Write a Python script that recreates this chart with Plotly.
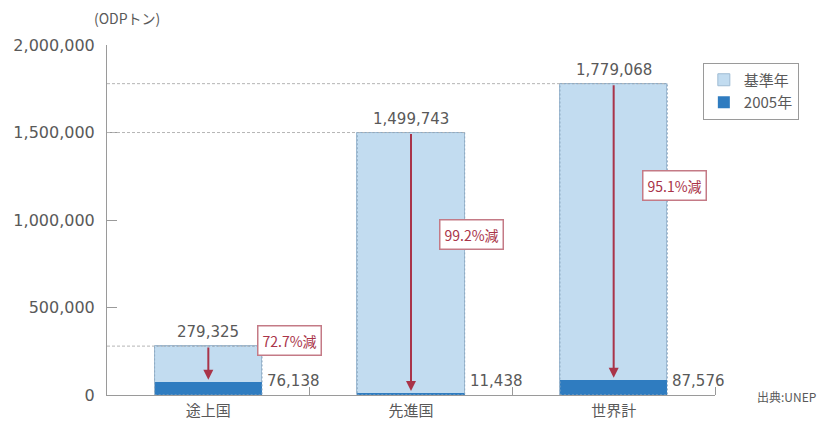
import plotly.graph_objects as go

# ODP-tonne consumption: base year vs 2005
categories = ["途上国", "先進国", "世界計"]
base_year = [279325, 1499743, 1779068]
year_2005 = [76138, 11438, 87576]
series_names = ["基準年", "2005年"]
y_ticks = [0, 500000, 1000000, 1500000, 2000000]

LIGHT = "#c2dcf0"
DARK = "#2f7cc0"
RED = "#a93449"
GREY = "#9a9a9a"
TEXT = "#595959"
FONT = "Noto Sans CJK JP"
NUM_FONT = "DejaVu Sans"
BAR_W = 0.53

x = list(range(len(categories)))

fig = go.Figure()
fig.add_trace(go.Bar(x=x, y=base_year, name=series_names[0], width=BAR_W,
                     marker=dict(color=LIGHT, line=dict(color="#9fbbd3", width=1))))
fig.add_trace(go.Bar(x=x, y=year_2005, name=series_names[1], width=BAR_W,
                     marker=dict(color=DARK, line=dict(width=0))))

shapes = []
annotations = []
label_pos = [(0.40, 314000), (1.30, 920000), (2.30, 1200000)]
for i, (b, v) in enumerate(zip(base_year, year_2005)):
    left, right = i - BAR_W / 2, i + BAR_W / 2
    # dashed reference line from the axis to the top of the base-year bar
    shapes.append(dict(type="line", xref="x", yref="y", x0=-0.5, x1=right, y0=b, y1=b,
                       line=dict(color="#b5b5b5", width=1, dash="3px,2px"), layer="above"))
    # dashed outline of the base-year bar
    shapes.append(dict(type="rect", xref="x", yref="y", x0=left, x1=right, y0=0, y1=b,
                       line=dict(color="#8eaac2", width=1, dash="2px,2px"), layer="above"))
    # base-year value above the bar
    annotations.append(dict(x=i, y=b, xref="x", yref="y", text=f"{b:,}", showarrow=False,
                            yanchor="bottom", yshift=3,
                            font=dict(family=NUM_FONT, size=15, color=TEXT)))
    # 2005 value to the right of the bar
    annotations.append(dict(x=right, y=0, xref="x", yref="y", text=f"{v:,}", showarrow=False,
                            xanchor="left", yanchor="bottom", xshift=3, yshift=3,
                            font=dict(family=NUM_FONT, size=15, color=TEXT)))
    # reduction arrow
    annotations.append(dict(x=i, y=v, ax=i, ay=b, xref="x", yref="y", axref="x", ayref="y",
                            text="", showarrow=True, arrowhead=2, arrowsize=1,
                            arrowwidth=2, arrowcolor=RED, standoff=2))
    # reduction percentage box
    pct = (1 - v / b) * 100
    lx, ly = label_pos[i]
    annotations.append(dict(x=lx, y=ly, xref="x", yref="y", text=f"{pct:.1f}%減",
                            showarrow=False, bgcolor="white", bordercolor="#c47a86",
                            borderwidth=1.5, borderpad=4,
                            font=dict(size=14, color=RED)))

annotations.append(dict(x=0.033, y=1.077, xref="paper", yref="paper", text="(ODPトン)",
                        showarrow=False, xanchor="center", yanchor="middle",
                        font=dict(size=14, color=TEXT)))
annotations.append(dict(x=1.066, y=-0.005, xref="paper", yref="paper", text="出典:UNEP",
                        showarrow=False, xanchor="left", yanchor="middle",
                        font=dict(size=12, color=TEXT)))

fig.update_layout(
    width=825, height=421,
    margin=dict(l=107, r=110, t=45, b=26, autoexpand=False),
    paper_bgcolor="white", plot_bgcolor="white",
    barmode="overlay", bargap=0,
    font=dict(family=FONT, color=TEXT),
    shapes=shapes, annotations=annotations,
    showlegend=True,
    legend=dict(x=0.98, y=0.95, xanchor="left", yanchor="top",
                bgcolor="white", bordercolor=GREY, borderwidth=1,
                font=dict(size=15, color=TEXT), traceorder="normal",
                itemwidth=30, tracegroupgap=2),
)
fig.update_xaxes(range=[-0.5, 2.5], tickvals=x, ticktext=categories, ticks="",
                 showline=True, linecolor=GREY, linewidth=1, showgrid=False, zeroline=False,
                 tickfont=dict(size=15, color=TEXT), ticklabelstandoff=2, automargin=False,
                 minor=dict(tickvals=[0.5, 1.5, 2.5], ticks="inside", ticklen=8,
                            tickcolor=GREY, showgrid=False))
fig.update_yaxes(range=[0, 2000000], tickvals=y_ticks,
                 ticktext=[f"{t:,}" for t in y_ticks], ticks="inside", ticklen=10,
                 tickcolor=GREY, showline=True, linecolor=GREY, linewidth=1,
                 showgrid=False, zeroline=False, ticklabelstandoff=8, automargin=False,
                 tickfont=dict(family=NUM_FONT, size=16, color=TEXT))

fig.write_html("out.html")
